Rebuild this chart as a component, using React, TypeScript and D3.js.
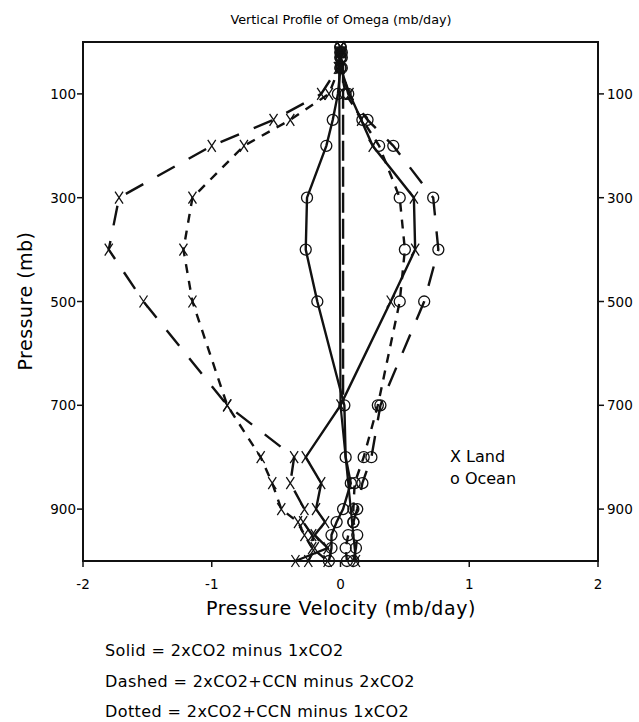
import React from "react";
import * as d3 from "d3";

// Pressure levels (mb)
const levels = [10, 20, 30, 50, 100, 150, 200, 300, 400, 500, 700, 800, 850, 900, 925, 950, 975, 1000];

// Omega differences (mb/day)
const solidLand = [0, 0.01, 0, 0, 0.07, 0.16, 0.25, 0.57, 0.58, 0.39, 0.0, -0.27, -0.15, -0.19, -0.12, -0.2, -0.1, -0.35];
const dashedLand = [0, -0.01, 0, -0.02, -0.15, -0.52, -1.0, -1.72, -1.8, -1.53, -0.88, -0.36, -0.39, -0.28, -0.29, -0.22, -0.2, -0.25];
const dottedLand = [0, 0, -0.01, -0.01, -0.09, -0.39, -0.75, -1.15, -1.22, -1.15, -0.88, -0.62, -0.53, -0.46, -0.33, -0.28, -0.22, -0.1];
const solidOcean = [0, 0, 0, 0, -0.02, -0.06, -0.11, -0.26, -0.27, -0.18, 0.03, 0.04, 0.08, 0.02, -0.03, -0.07, -0.07, -0.09];
const dashedOcean = [0, 0.01, 0, 0.01, 0.06, 0.21, 0.41, 0.72, 0.76, 0.65, 0.31, 0.24, 0.17, 0.13, 0.1, 0.13, 0.12, 0.1];
const dottedOcean = [0, 0, 0.01, 0, 0.04, 0.17, 0.3, 0.46, 0.5, 0.46, 0.29, 0.18, 0.11, 0.1, 0.1, 0.06, 0.04, 0.05];

// connector lines near zero (no markers in upper part)
const connectorLevels = [40, 700, 1000];
const solidConnector = [-0.01, 0.0, 0.12];
const dashedConnectorLevels = [40, 690];
const dashedConnector = [0.02, 0.02];

const yTicks = [100, 300, 500, 700, 900];
const xTicks = [-2, -1, 0, 1, 2];

const notes = [
  "Solid = 2xCO2 minus 1xCO2",
  "Dashed = 2xCO2+CCN minus 2xCO2",
  "Dotted = 2xCO2+CCN minus 1xCO2",
];

const FONT = "'DejaVu Sans', sans-serif";

export default function App() {
  const x = d3.scaleLinear().domain([-2, 2]).range([83, 598]);
  const y = d3.scaleLinear().domain([0, 1000]).range([42, 561]);
  const line = d3
    .line<[number, number]>()
    .x((d) => x(d[0]))
    .y((d) => y(d[1]));

  const series = [
    { vals: solidLand, dash: "none", marker: "x" },
    { vals: dashedLand, dash: "20,16", marker: "x" },
    { vals: dottedLand, dash: "9,8", marker: "x" },
    { vals: solidOcean, dash: "none", marker: "o" },
    { vals: dashedOcean, dash: "20,16", marker: "o" },
    { vals: dottedOcean, dash: "9,8", marker: "o" },
  ];

  return (
    <svg width={639} height={722} style={{ position: "absolute", left: 0, top: 0, background: "#fff" }}>
      <rect x={0} y={0} width={639} height={722} fill="#fff" />
      <text x={341} y={24} textAnchor="middle" fontFamily={FONT} fontSize={12.8}>
        Vertical Profile of Omega (mb/day)
      </text>

      {/* connectors */}
      <path
        d={line(solidConnector.map((v, i) => [v, connectorLevels[i]]))!}
        fill="none"
        stroke="#111"
        strokeWidth={2.2}
      />
      <path
        d={line(dashedConnector.map((v, i) => [v, dashedConnectorLevels[i]]))!}
        fill="none"
        stroke="#111"
        strokeWidth={2.4}
        strokeDasharray="20,6"
      />
      <path
        d={`M${x(0.12) - 4},${y(1000) - 6}L${x(0.12) + 4},${y(1000) + 6}M${x(0.12) + 4},${y(1000) - 6}L${x(0.12) - 4},${y(1000) + 6}`}
        stroke="#111"
        strokeWidth={1.3}
      />

      {series.map((s, si) => (
        <g key={si}>
          <path
            d={line(s.vals.map((v, i) => [v, levels[i]]))!}
            fill="none"
            stroke="#111"
            strokeWidth={2.4}
            strokeDasharray={s.dash}
          />
          {s.vals.map((v, i) => {
            const cx = x(v);
            const cy = y(levels[i]);
            return s.marker === "o" ? (
              <circle key={i} cx={cx} cy={cy} r={5.5} fill="none" stroke="#111" strokeWidth={1.3} />
            ) : (
              <path
                key={i}
                d={`M${cx - 4},${cy - 6}L${cx + 4},${cy + 6}M${cx + 4},${cy - 6}L${cx - 4},${cy + 6}`}
                stroke="#111"
                strokeWidth={1.3}
              />
            );
          })}
        </g>
      ))}

      {/* frame */}
      <rect x={83} y={42} width={515} height={519} fill="none" stroke="#111" strokeWidth={2} />

      {yTicks.map((t) => (
        <g key={t}>
          <line x1={77} x2={83} y1={y(t)} y2={y(t)} stroke="#111" strokeWidth={1.5} />
          <line x1={598} x2={604} y1={y(t)} y2={y(t)} stroke="#111" strokeWidth={1.5} />
          <text x={76} y={y(t) + 5} textAnchor="end" fontFamily={FONT} fontSize={13.5}>
            {t}
          </text>
          <text x={607} y={y(t) + 5} textAnchor="start" fontFamily={FONT} fontSize={13.5}>
            {t}
          </text>
        </g>
      ))}
      {xTicks.map((t) => (
        <g key={t}>
          <line x1={x(t)} x2={x(t)} y1={561} y2={567} stroke="#111" strokeWidth={1.5} />
          <text x={x(t)} y={589} textAnchor="middle" fontFamily={FONT} fontSize={13.5}>
            {t}
          </text>
        </g>
      ))}

      <text x={341} y={615} textAnchor="middle" fontFamily={FONT} fontSize={19} letterSpacing={0.6}>
        Pressure Velocity (mb/day)
      </text>
      <text
        transform="translate(32,301) rotate(-90)"
        textAnchor="middle"
        fontFamily={FONT}
        fontSize={19}
        letterSpacing={0.5}
      >
        Pressure (mb)
      </text>

      <text x={450} y={462} fontFamily={FONT} fontSize={16}>X Land</text>
      <text x={450} y={484} fontFamily={FONT} fontSize={16}>o Ocean</text>

      {notes.map((n, i) => (
        <text key={i} x={105} y={656 + i * 30.5} fontFamily={FONT} fontSize={16} letterSpacing={0.4}>
          {n}
        </text>
      ))}
    </svg>
  );
}
